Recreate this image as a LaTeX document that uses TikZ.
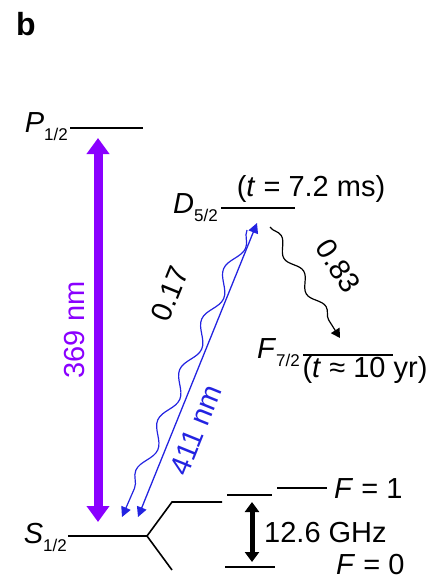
\documentclass[tikz,border=0pt]{standalone}
\usepackage{fontspec}
\setmainfont{Liberation Sans}
\usetikzlibrary{arrows.meta,decorations.pathmorphing}
\definecolor{uvviolet}{RGB}{138,0,255}
\definecolor{laserblue}{RGB}{35,35,225}
\newcommand{\lvl}[2]{\textit{#1}\raisebox{-8pt}{\fontsize{17}{17}\selectfont #2}}
\tikzset{
  level/.style={line width=1.6pt},
  every node/.style={font=\fontsize{29}{31}\selectfont, inner sep=0pt},
}

\begin{document}
\begin{tikzpicture}[x=1pt,y=-1pt]
\useasboundingbox (0,0) rectangle (433,581);

\node[font=\fontsize{32}{32}\selectfont\bfseries] (panel) at (26,24) {b};

% energy levels
\draw[level] (70,128) -- (143,128);
\draw[level] (221,208) -- (295,208);
\draw[level] (303,355) -- (393,355);
\draw[level] (68,536) -- (147,536) -- (172,502) -- (222,502);
\draw[level] (147,536) -- (172,570);
\draw[level] (227,495) -- (272,495);
\draw[level] (277,488) -- (327,488);
\draw[level] (225,567) -- (275,567);

\node[anchor=base east] (plab) at (68,132) {\lvl{P}{1/2}};
\node[anchor=base east] (dlab) at (218,213) {\lvl{D}{5/2}};
\node[anchor=base east] (flab) at (300,358) {\lvl{F}{7/2}};
\node[anchor=base east] (slab) at (67,543) {\lvl{S}{1/2}};
\node[anchor=base] (dlife) at (311,196) {(\textit{t} = 7.2 ms)};
\node[anchor=base] (flife) at (365,377) {(\textit{t} ≈ 10 yr)};
\node[anchor=west] (fone) at (334,489) {\textit{F} = 1};
\node[anchor=west] (fzero) at (336,565) {\textit{F} = 0};

% transitions
\coordinate (ptop) at (98,138);
\coordinate (sup369) at (98,522);
\coordinate (dtip) at (257,223);
\coordinate (stip) at (138,517);
\coordinate (dwav) at (247,230);
\coordinate (swav) at (122,517);
\coordinate (ddec) at (270,227);
\coordinate (ftip) at (340,338);
\coordinate (hfup) at (252,502);
\coordinate (hfdn) at (252,562);

\draw[uvviolet, line width=9pt, {Triangle[length=16pt,width=22pt]}-{Triangle[length=16pt,width=22pt]}] (sup369) -- (ptop);
\node[uvviolet, rotate=90] (uvlab) at (75,330) {369 nm};

\draw[laserblue, line width=1.3pt, {Triangle[length=10pt,width=10pt]}-{Triangle[length=10pt,width=10pt]}] (stip) -- (dtip);
\draw[laserblue, line width=1.2pt, -{Triangle[length=10pt,width=10pt]}, decorate,
  decoration={snake, amplitude=6pt, segment length=55pt, post length=12pt}] (dwav) -- (swav);
\node[rotate=68] (pone) at (170,294) {0.17};
\node[laserblue, rotate=68] (bluelab) at (196,430) {411 nm};

\draw[line width=1.2pt, -{Triangle[length=9pt,width=10pt]}, decorate,
  decoration={snake, amplitude=5pt, segment length=42pt, post length=10pt}] (ddec) -- (ftip);
\node[rotate=-57] (ptwo) at (338,266) {0.83};

\draw[line width=5pt, {Triangle[length=10pt,width=14pt]}-{Triangle[length=10pt,width=14pt]}] (hfdn) -- (hfup);
\node[anchor=west] (hflab) at (264,533) {12.6 GHz};
\end{tikzpicture}
\end{document}
